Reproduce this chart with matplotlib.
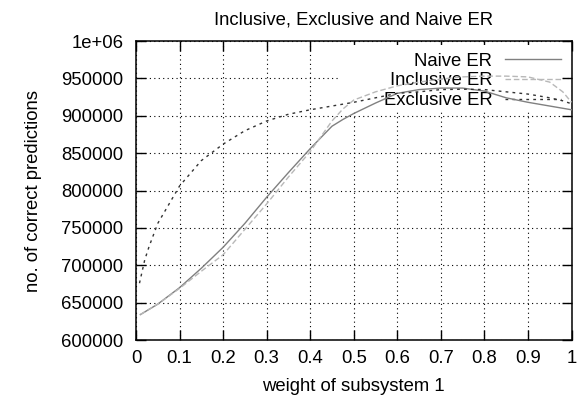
import numpy as np
import matplotlib
matplotlib.use("Agg")
from matplotlib import pyplot as plt
from matplotlib.patches import Rectangle

plt.rcParams['font.family'] = ['Liberation Sans', 'DejaVu Sans']

# weight of subsystem 1
weights = [0.01, 0.03, 0.05, 0.10, 0.15, 0.20, 0.25, 0.30, 0.35, 0.40, 0.45,
           0.475, 0.50, 0.55, 0.60, 0.65, 0.70, 0.75, 0.80, 0.85, 0.90, 0.95,
           0.98, 1.00]

naive_er = [634000, 641000, 648000, 670000, 696000, 724000, 756000, 791000,
            824000, 856000, 886000, 895000, 903000, 917000, 930000, 935000,
            937000, 937000, 933000, 924000, 918000, 913000, 910000, 908000]

inclusive_er = [634000, 641000, 648000, 669000, 692000, 714000, 748000, 782000,
                818000, 852000, 893000, 909000, 921000, 932000, 940000, 945000,
                949000, 952000, 953000, 953000, 952000, 945000, 932000, 918000]

# exclusive rises much faster at the start, so it has extra points there
excl_weights = [0.008, 0.02, 0.03, 0.05, 0.075, 0.10, 0.15, 0.20, 0.25, 0.30,
                0.35, 0.40, 0.45, 0.50, 0.55, 0.60, 0.65, 0.70, 0.75, 0.80,
                0.85, 0.90, 0.95, 0.98, 1.00]
exclusive_er = [676000, 707000, 725000, 756000, 781000, 806000, 840000, 862000,
                880000, 893000, 902000, 908000, 913000, 918000, 924000, 930000,
                932000, 935000, 935500, 935000, 932000, 929000, 924000, 920000,
                916000]

x_ticks = [0, 0.1, 0.2, 0.3, 0.4, 0.5, 0.6, 0.7, 0.8, 0.9, 1]
x_ticklabels = ['0', '0.1', '0.2', '0.3', '0.4', '0.5', '0.6', '0.7', '0.8', '0.9', '1']
y_ticks = [600000, 650000, 700000, 750000, 800000, 850000, 900000, 950000, 1000000]
y_ticklabels = ['600000', '650000', '700000', '750000', '800000', '850000',
                '900000', '950000', '1e+06']

fs = 13.3

fig = plt.figure(figsize=(5.87, 4.07), dpi=100)
ax = fig.add_axes([136 / 587, 67 / 407, 435.5 / 587, 299 / 407])

ax.plot(weights, naive_er, color='#808080', lw=1.0, label='Naive ER', zorder=3)
ax.plot(weights, inclusive_er, color='#b8b8b8', lw=1.0, dashes=(4, 2),
        label='Inclusive ER', zorder=3)
ax.plot(excl_weights, exclusive_er, color='#333333', lw=1.0, dashes=(2, 3),
        label='Exclusive ER', zorder=3)

ax.set_xlim(0, 1)
ax.set_ylim(600000, 1000000)
ax.set_xticks(x_ticks)
ax.set_xticklabels(x_ticklabels)
ax.set_yticks(y_ticks)
ax.set_yticklabels(y_ticklabels)

ax.tick_params(direction='in', length=7, width=1, top=True, right=True,
               labelsize=fs, colors='black')
ax.tick_params(axis='x', pad=7)
ax.tick_params(axis='y', pad=9)

ax.set_axisbelow(True)
ax.grid(True, color='black', linestyle=(0, (1, 3)), lw=0.8)
for s in ax.spines.values():
    s.set_linewidth(1.1)

ax.set_title('Inclusive, Exclusive and Naive ER', fontsize=fs, pad=12)
ax.set_xlabel('weight of subsystem 1', fontsize=fs, labelpad=8)
ax.set_ylabel('no. of correct predictions', fontsize=fs, labelpad=14)

# white key box that hides the grid behind the legend (gnuplot style)
ax.add_patch(Rectangle((0.468, 0.763), 0.51, 0.222, transform=ax.transAxes,
                       facecolor='white', edgecolor='none', zorder=1))

leg = ax.legend(loc='upper right', bbox_to_anchor=(0.988, 0.98), markerfirst=False,
                frameon=False, fontsize=fs, handlelength=3.0,
                handletextpad=0.7, labelspacing=0.16, borderpad=0.3,
                borderaxespad=0)
leg.set_zorder(2)

fig.savefig('out.png', dpi=100)
